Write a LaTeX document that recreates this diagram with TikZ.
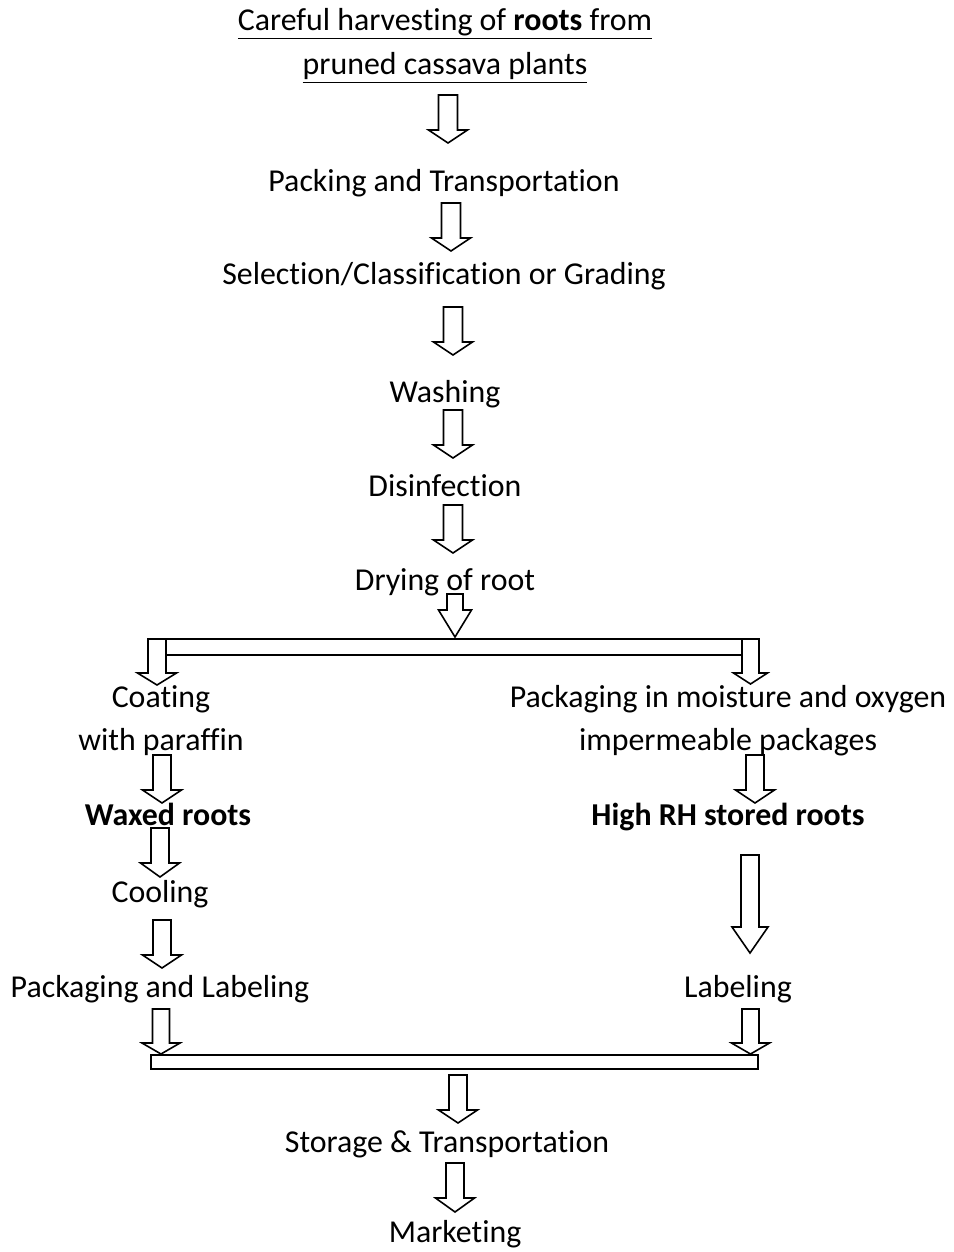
\documentclass[tikz,border=0pt]{standalone}
\usepackage{fontspec}
\setmainfont[Ligatures={NoCommon}]{Carlito}
\usetikzlibrary{positioning}
\tikzstyle{step text} = [align=center, inner sep=0pt, anchor=base, font=\fontsize{23.9}{32.25}\selectfont]
\tikzstyle{step bold} = [step text, font=\fontsize{23.9}{32.25}\selectfont\bfseries]
\tikzstyle{hollow} = [draw=black, fill=white, line width=1.2pt, line join=miter]
\tikzstyle{bar} = [draw=black, fill=white, line width=1.2pt]
% x, top of shaft, neck, tip, half shaft, half head
\newcommand{\hollowarrow}[6]{%
  \draw[hollow] (#1-#5,#2) -- (#1+#5,#2) -- (#1+#5,#3) -- (#1+#6,#3) -- (#1,#4)
    -- (#1-#6,#3) -- (#1-#5,#3) -- cycle;}

\begin{document}
\begin{tikzpicture}[x=0.75pt, y=-0.75pt]
    \useasboundingbox (0,0) rectangle (953,1252);

    % multi-line nodes sit on the baseline of their last line
    \node[step text, font=\fontsize{23.9}{33}\selectfont] (harvest) at (445,75) {\underline{Careful harvesting of \textbf{roots} from}\\ \underline{pruned cassava plants}};
    \node[step text] (packing) at (444,191) {Packing and Transportation};
    \node[step text] (grading) at (444,284) {Selection/Classification or Grading};
    \node[step text] (washing) at (445,402) {Washing};
    \node[step text] (disinf) at (445,496) {Disinfection};
    \node[step text] (drying) at (445,590) {Drying of root};
    \node[step text] (coating) at (161,750) {Coating\\ with paraffin};
    \node[step text] (packaging) at (728,750) {Packaging in moisture and oxygen\\ impermeable packages};
    \node[step bold] (waxed) at (168,825) {Waxed roots};
    \node[step bold] (highrh) at (728,825) {High RH stored roots};
    \node[step text] (cooling) at (160,902) {Cooling};
    \node[step text] (packlabel) at (160,997) {Packaging and Labeling};
    \node[step text] (labeling) at (738,997) {Labeling};
    \node[step text] (storage) at (447,1152) {Storage \& Transportation};
    \node[step text] (market) at (455,1242) {Marketing};

    % main line
    \hollowarrow{448}{95}{130}{143}{9.5}{19.5}
    \hollowarrow{451}{203}{238}{251}{9.5}{19.5}
    \hollowarrow{453}{307}{342}{355}{9.5}{19.5}
    \hollowarrow{453}{410}{445}{458}{9.5}{19.5}
    \hollowarrow{453}{505}{540}{553}{9.5}{19.5}
    \hollowarrow{455}{594}{610}{637}{8}{16.5}

    % split
    \draw[bar] (148,639) rectangle (759,655);
    \hollowarrow{157}{639}{673}{685}{9}{19.5}
    \hollowarrow{750.5}{639}{673}{684}{8.5}{17}

    % waxed branch
    \hollowarrow{162}{755}{790}{803}{9}{19.5}
    \hollowarrow{160}{828}{863}{877}{9}{19.5}
    \hollowarrow{162}{920}{955}{968}{9}{19.5}
    \hollowarrow{161}{1009}{1043}{1054}{8.5}{19}

    % high RH branch
    \hollowarrow{755}{755}{790}{803}{9}{19.5}
    \hollowarrow{750}{855}{927}{953}{9}{18}
    \hollowarrow{750.5}{1009}{1043}{1054}{8.5}{19}

    % join
    \draw[bar] (151,1055) rectangle (758,1069);
    \hollowarrow{458}{1075}{1110}{1123}{9}{19.5}
    \hollowarrow{455}{1163}{1198}{1212}{9}{19.5}
\end{tikzpicture}
\end{document}
